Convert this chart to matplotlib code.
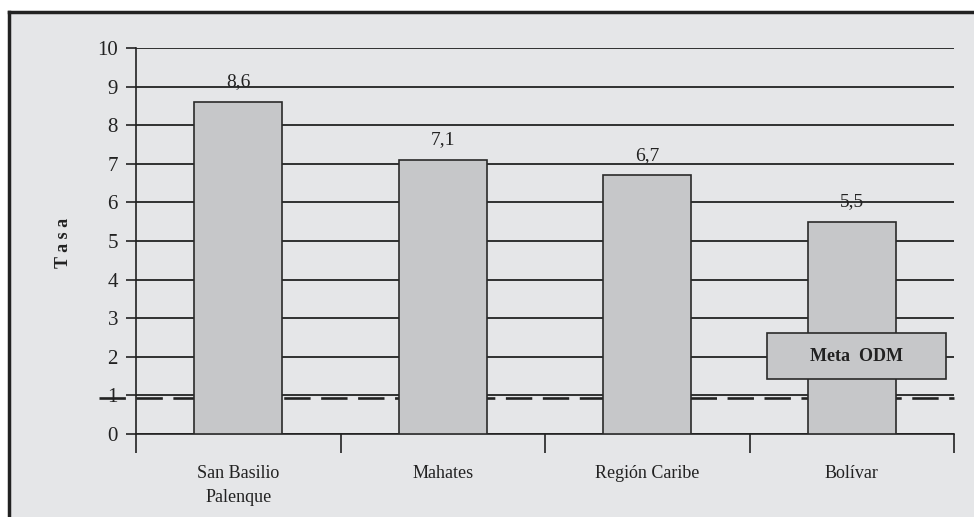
import numpy as np
import matplotlib.pyplot as plt
from matplotlib.patches import Rectangle
from matplotlib.lines import Line2D

# datos
categorias = ['San Basilio\nPalenque', 'Mahates', 'Región Caribe', 'Bolívar']
tasas = [8.6, 7.1, 6.7, 5.5]
etiquetas = ['8,6', '7,1', '6,7', '5,5']
meta_odm = 0.92

plt.rcParams['font.family'] = ['Liberation Serif', 'DejaVu Serif']

W, H = 974, 517
fig = plt.figure(figsize=(W / 100, H / 100), dpi=100)
fig.patch.set_facecolor('white')

# fondo gris con marco arriba e izquierda
bg = '#e5e6e8'
fig.patches.append(Rectangle((9 / W, 0), 1, 1 - 12 / H, transform=fig.transFigure,
                             facecolor=bg, edgecolor='none', zorder=-10))
fig.lines.append(Line2D([9 / W, 1], [1 - 12 / H] * 2, transform=fig.transFigure,
                        color='#222222', lw=2.5, zorder=-9))
fig.lines.append(Line2D([9 / W] * 2, [0, 1 - 12 / H], transform=fig.transFigure,
                        color='#222222', lw=2.5, zorder=-9))

ax = fig.add_axes([136 / W, 1 - 434 / H, (954 - 136) / W, (434 - 48) / H])
ax.set_facecolor(bg)

x = np.arange(len(categorias))
ax.bar(x, tasas, width=0.43, color='#c6c7c9', edgecolor='#2a2a2a', linewidth=1.2, zorder=3)

for xi, v, t in zip(x, tasas, etiquetas):
    ax.text(xi, v + 0.3, t, ha='center', va='bottom', fontsize=14, color='#222222')

ax.set_xlim(-0.5, 3.5)
ax.set_ylim(0, 10)
ax.set_yticks(range(0, 11))
ax.set_yticklabels([str(i) for i in range(0, 11)], fontsize=15, color='#222222')
ax.tick_params(axis='y', length=7, width=1.2, direction='out', pad=6, color='#222222')

ax.set_xticks(x)
ax.set_xticklabels(categorias, fontsize=13, color='#222222', linespacing=1.6)
ax.set_xticks(np.arange(-0.5, 4, 1), minor=True)
ax.tick_params(axis='x', which='major', length=0, pad=22)
ax.tick_params(axis='x', which='minor', length=14, width=1.2, direction='out', color='#222222')

ax.yaxis.grid(True, color='#222222', lw=1.3, zorder=1)
ax.set_axisbelow(True)
for s in ['top', 'right']:
    ax.spines[s].set_visible(False)
for s in ['left', 'bottom']:
    ax.spines[s].set_color('#222222')
    ax.spines[s].set_linewidth(1.2)

# linea de meta
ax.plot([-0.68, 3.5], [meta_odm, meta_odm], color='#222222', lw=1.9,
        dashes=(10, 4), zorder=2, clip_on=False)

# recuadro Meta ODM
ax.add_patch(Rectangle((2.585, 1.42), 0.875, 1.2, facecolor='#c6c7c9',
                       edgecolor='#2a2a2a', lw=1.2, zorder=4))
ax.text(2.585 + 0.875 / 2, 2.02, 'Meta  ODM', ha='center', va='center',
        fontsize=13, fontweight='bold', color='#222222', zorder=5)

fig.text(64 / W, 1 - 243 / H, 'T a s a', rotation=90, ha='center', va='center',
         fontsize=13, fontweight='bold', color='#222222')

fig.savefig('out.png', dpi=100, facecolor=fig.get_facecolor())
